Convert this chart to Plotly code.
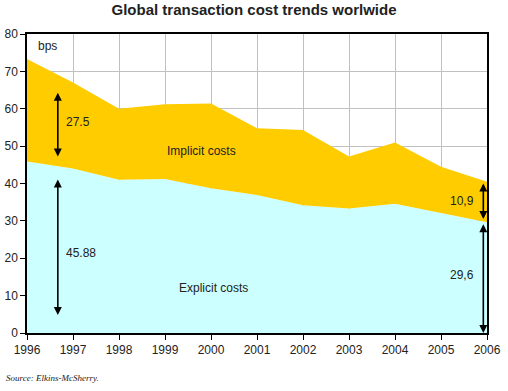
import plotly.graph_objects as go

years = [1996, 1997, 1998, 1999, 2000, 2001, 2002, 2003, 2004, 2005, 2006]
explicit = [45.88, 44.0, 41.0, 41.2, 38.7, 36.9, 34.2, 33.3, 34.6, 32.0, 29.6]
total = [73.3, 67.0, 60.0, 61.2, 61.4, 54.8, 54.3, 47.2, 51.0, 44.5, 40.5]

fig = go.Figure()
fig.add_trace(go.Scatter(x=years, y=explicit, mode="lines", line=dict(width=0, color="#CCFFFF"),
                         fill="tozeroy", fillcolor="#CCFFFF", hoverinfo="skip", showlegend=False))
fig.add_trace(go.Scatter(x=years, y=total, mode="lines", line=dict(width=0, color="#FFCC00"),
                         fill="tonexty", fillcolor="#FFCC00", hoverinfo="skip", showlegend=False))

font = dict(family="Liberation Sans, Arial, sans-serif", size=12, color="#222")

arrows = [
    (1996.67, 64.7, 47.2),
    (1996.67, 41.5, 4.8),
    (2005.92, 40.4, 30.5),
    (2005.92, 29.5, 0.0),
]
for x, y0, y1 in arrows:
    fig.add_annotation(x=x, y=y1, ax=x, ay=y0, xref="x", yref="y", axref="x", ayref="y",
                       text="", showarrow=True, arrowside="end+start", arrowhead=2,
                       arrowsize=1, arrowwidth=1.6, arrowcolor="black")

labels = [
    (1996.8, 56.5, "27.5", "left"),
    (1996.8, 21.4, "45.88", "left"),
    (2005.75, 35.3, "10,9", "right"),
    (2005.75, 15.5, "29,6", "right"),
    (1999.8, 48.7, "Implicit costs", "center"),
    (2000.05, 12.0, "Explicit costs", "center"),
    (1996.2, 76.8, "bps", "left"),
]
for x, y, t, anc in labels:
    fig.add_annotation(x=x, y=y, xref="x", yref="y", text=t, showarrow=False,
                       xanchor=anc, yanchor="middle", font=font)

fig.add_annotation(xref="paper", yref="paper", x=-0.05, y=-0.15, xanchor="left", yanchor="middle",
                   text="<i>Source: Elkins-McSherry.</i>", showarrow=False,
                   font=dict(family="Liberation Serif, Times New Roman, serif", size=9, color="#222"))

fig.update_layout(
    width=508, height=391,
    margin=dict(l=27, r=21, t=34, b=58),
    paper_bgcolor="white", plot_bgcolor="white",
    title=dict(text="<b>Global transaction cost trends worlwide</b>", x=0.5, xanchor="center",
               y=0.974, yanchor="middle",
               font=dict(family="Liberation Sans, Arial, sans-serif", size=15, color="#222")),
    font=font,
    xaxis=dict(range=[1996, 2006], tickmode="linear", tick0=1996, dtick=1, automargin=False,
               showgrid=True, gridcolor="#C0C0C0", gridwidth=1,
               showline=True, linecolor="black", linewidth=1.5, mirror=True,
               ticks="outside", ticklen=5, tickcolor="black", zeroline=False,
               tickfont=dict(size=12)),
    yaxis=dict(range=[0, 80], tickmode="linear", tick0=0, dtick=10, automargin=False,
               showgrid=True, gridcolor="#C0C0C0", gridwidth=1,
               showline=True, linecolor="black", linewidth=1.5, mirror=True,
               ticks="outside", ticklen=5, tickcolor="black", zeroline=False,
               tickfont=dict(size=12)),
)
fig.write_html("out.html", config={"displayModeBar": False},
               post_script="document.body.style.margin='0';document.body.style.overflow='hidden';")
